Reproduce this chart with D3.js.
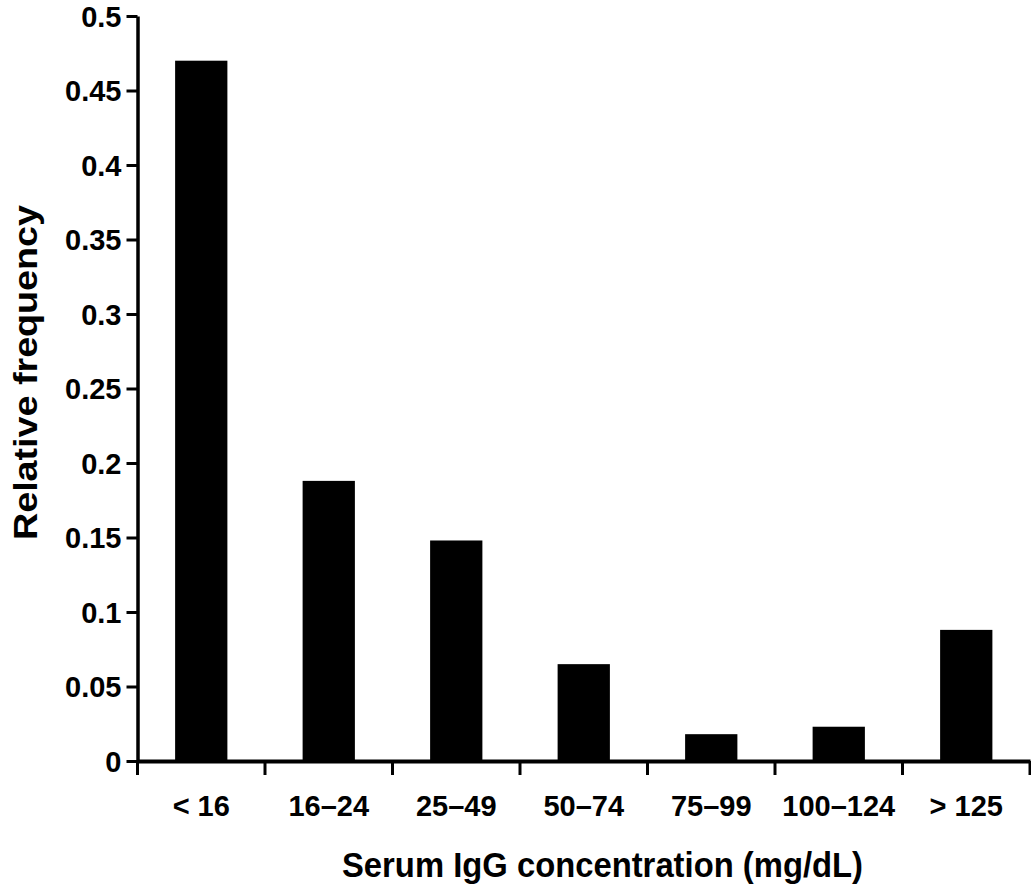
<!DOCTYPE html>
<html>
<head>
<meta charset="utf-8">
<script src="https://cdn.jsdelivr.net/npm/d3@7"></script>
<style>
  body { margin: 0; background: #fff; }
  svg { display: block; }
  text { font-family: "Liberation Sans", Arial, sans-serif; font-weight: bold; fill: #000; }
</style>
</head>
<body>
<div id="chart"></div>
<script>
// Data
var categories = ["< 16", "16\u201324", "25\u201349", "50\u201374", "75\u201399", "100\u2013124", "> 125"];
var frequencies = [0.47, 0.188, 0.148, 0.065, 0.018, 0.023, 0.088];
var yTicks = [0, 0.05, 0.1, 0.15, 0.2, 0.25, 0.3, 0.35, 0.4, 0.45, 0.5];

var width = 1031, height = 890;
var plotLeft = 137.5, plotRight = 1030, plotTop = 16, plotBottom = 761;

var svg = d3.select("#chart").append("svg")
    .attr("width", width)
    .attr("height", height);

var x = d3.scaleBand()
    .domain(categories)
    .range([plotLeft, plotRight])
    .paddingInner(0.59)
    .paddingOuter(0.295);

var y = d3.scaleLinear()
    .domain([0, 0.5])
    .range([plotBottom, plotTop]);

// bars
svg.selectAll(".bar")
    .data(categories)
  .enter().append("rect")
    .attr("class", "bar")
    .attr("x", function(d) { return x(d); })
    .attr("y", function(d, i) { return y(frequencies[i]); })
    .attr("width", x.bandwidth())
    .attr("height", function(d, i) { return plotBottom - y(frequencies[i]); })
    .style("fill", "#000");

// y axis
var yAxis = svg.append("g")
    .attr("transform", "translate(" + plotLeft + ",0)")
    .call(d3.axisLeft(y)
        .tickValues(yTicks)
        .tickSize(11)
        .tickSizeOuter(0)
        .tickPadding(5)
        .tickFormat(function(d) { return String(+d.toFixed(2)); }));

yAxis.selectAll("text").style("font-size", "29px").attr("dy", "0.36em");
yAxis.selectAll("line").style("stroke", "#000").style("stroke-width", 3);
yAxis.select(".domain").style("stroke", "#000").style("stroke-width", 3.5);

// x axis: line + ticks at section boundaries, labels at band centres
var xAxis = svg.append("g")
    .attr("transform", "translate(0," + plotBottom + ")")
    .call(d3.axisBottom(x)
        .tickSize(0)
        .tickSizeOuter(0)
        .tickPadding(55));

xAxis.selectAll("text").style("font-size", "29px").attr("dy", "0");
xAxis.select(".domain").style("stroke", "#000").style("stroke-width", 4);
xAxis.selectAll(".tick line").remove();

var bounds = d3.range(categories.length + 1).map(function(i) { return plotLeft + i * x.step(); });
xAxis.selectAll(".sep")
    .data(bounds)
  .enter().append("line")
    .attr("class", "sep")
    .attr("x1", function(d) { return d; })
    .attr("x2", function(d) { return d; })
    .attr("y1", 0)
    .attr("y2", 14)
    .style("stroke", "#000")
    .style("stroke-width", 3);

// axis titles
svg.append("text")
    .attr("x", 602.5)
    .attr("y", 877)
    .attr("text-anchor", "middle")
    .attr("textLength", 521)
    .attr("lengthAdjust", "spacingAndGlyphs")
    .style("font-size", "35px")
    .text("Serum IgG concentration (mg/dL)");

svg.append("text")
    .attr("transform", "translate(37,372.5) rotate(-90)")
    .attr("text-anchor", "middle")
    .attr("textLength", 335)
    .attr("lengthAdjust", "spacingAndGlyphs")
    .style("font-size", "34px")
    .text("Relative frequency");
</script>
</body>
</html>
